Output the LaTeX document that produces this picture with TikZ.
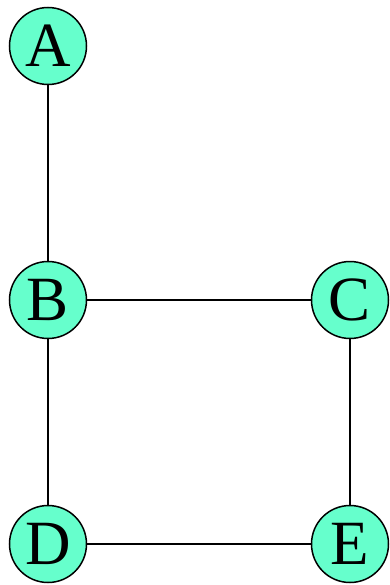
\documentclass[tikz,border=0pt]{standalone}
\usepackage{fontspec}
\setmainfont{Liberation Serif}
\usepackage{tikz}
\usetikzlibrary{positioning}
\definecolor{vertexfill}{RGB}{102,255,204}
\tikzset{
    vertex/.style={
        circle,
        draw,
        fill=vertexfill,
        line width=1.5pt,
        minimum size=77pt,
        inner sep=0pt,
        font=\fontsize{63}{63}\selectfont
    },
    edge/.style={line width=1.5pt}
}

\begin{document}
\begin{tikzpicture}[x=1pt, y=-1pt]
    \useasboundingbox (0,0) rectangle (389,585);
    \node (A) [vertex] at (48,46) {A};
    \node (B) [vertex] at (48,300) {B};
    \node (C) [vertex] at (350,300) {C};
    \node (D) [vertex] at (48,544) {D};
    \node (E) [vertex] at (350,544) {E};

    \draw [edge] (A) -- (B);
    \draw [edge] (B) -- (C);
    \draw [edge] (B) -- (D);
    \draw [edge] (C) -- (E);
    \draw [edge] (D) -- (E);
\end{tikzpicture}
\end{document}
